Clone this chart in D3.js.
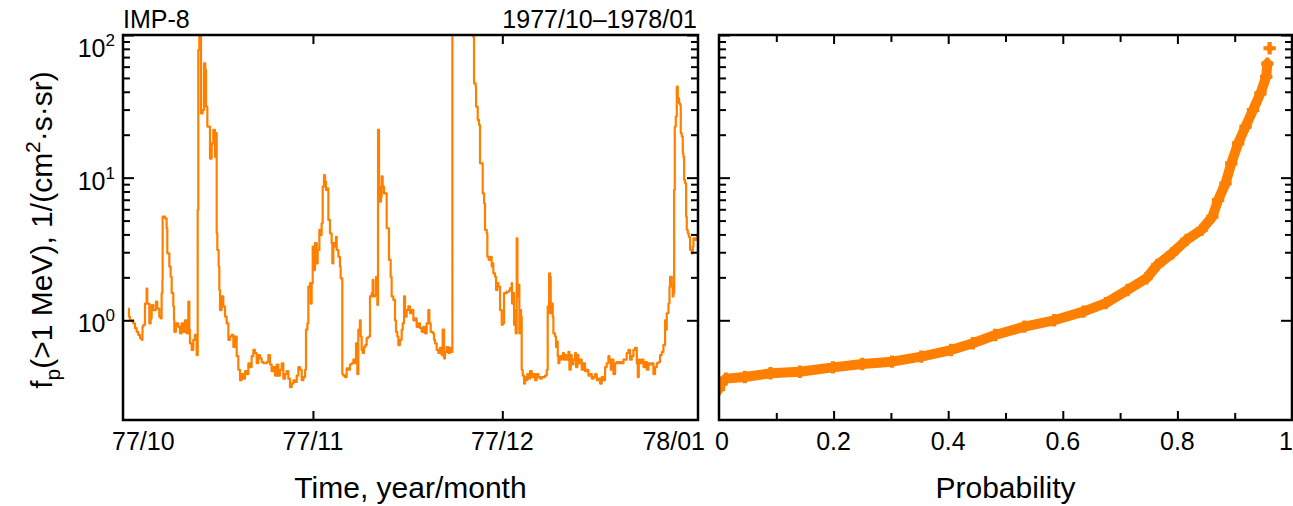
<!DOCTYPE html>
<html>
<head>
<meta charset="utf-8">
<script src="https://cdn.jsdelivr.net/npm/d3@7"></script>
<style>
  body { margin: 0; background: #fff; }
  svg { display: block; font-family: "Liberation Sans", Arial, sans-serif; }
</style>
</head>
<body>
<svg id="chart" width="1293" height="506"></svg>
<script>
// proton flux time series: days since 1977-10-01 00:00 UT, flux in 1/(cm2 s sr)
const tDays = [
  1.75, 1.85, 2.01, 2.54, 2.80, 3.07, 3.33, 3.60, 3.86, 4.00, 4.13, 4.39, 4.65, 4.75, 5.08, 5.29, 5.45, 5.71, 6.13, 6.34,
  6.66, 6.87, 7.03, 7.15, 7.19, 7.56, 7.82, 7.93, 8.25, 8.46, 8.62, 8.88, 8.99, 9.04, 9.30, 9.67, 9.94, 10.20, 10.46, 10.73,
  10.99, 11.26, 11.42, 11.52, 11.79, 12.05, 12.31, 12.58, 12.74, 12.84, 13.00, 13.27, 13.53, 13.74, 13.95, 14.06, 14.27, 14.59, 14.69, 14.96,
  15.22, 15.48, 15.64, 15.75, 15.85, 16.06, 16.17, 16.28, 16.54, 16.80, 17.07, 17.33, 17.60, 17.86, 18.13, 18.39, 18.65, 18.92, 19.18, 19.45,
  19.71, 19.97, 20.24, 20.50, 20.77, 21.03, 21.29, 21.56, 21.82, 22.09, 22.35, 22.61, 22.88, 23.14, 23.41, 23.67, 23.94, 24.20, 24.46, 24.73,
  24.99, 25.26, 25.52, 25.78, 26.05, 26.31, 26.58, 26.84, 27.10, 27.37, 27.63, 27.90, 28.16, 28.43, 28.69, 28.95, 29.22, 29.48, 29.75, 29.90,
  30.12, 30.27, 30.54, 30.65, 30.80, 30.96, 31.17, 31.33, 31.60, 31.75, 31.91, 32.02, 32.22, 32.38, 32.54, 32.75, 32.91, 33.07, 33.28, 33.44,
  33.70, 33.96, 34.07, 34.23, 34.49, 34.65, 34.76, 35.02, 35.28, 35.39, 35.55, 35.65, 35.81, 36.08, 36.34, 36.61, 36.87, 37.13, 37.40, 37.66,
  37.82, 38.03, 38.19, 38.45, 38.56, 38.72, 38.88, 39.09, 39.30, 39.51, 39.77, 40.04, 40.30, 40.46, 40.57, 40.83, 40.99, 41.20, 41.31, 41.47,
  41.62, 41.78, 41.89, 42.05, 42.26, 42.57, 42.68, 42.94, 43.05, 43.31, 43.47, 43.74, 44.00, 44.16, 44.37, 44.53, 44.79, 45.06, 45.22, 45.43,
  45.59, 45.85, 46.11, 46.38, 46.64, 46.91, 47.17, 47.43, 47.70, 47.96, 48.23, 48.49, 48.76, 49.02, 49.28, 49.44, 49.65, 49.97, 50.18, 50.34,
  50.60, 50.87, 51.13, 51.40, 51.55, 51.77, 51.92, 52.19, 52.45, 52.72, 52.98, 53.09, 54.80, 56.36, 56.41, 56.52, 56.78, 56.84, 57.10, 57.31,
  57.47, 57.74, 57.89, 58.11, 58.26, 58.53, 58.63, 58.84, 59.06, 59.32, 59.48, 59.58, 59.85, 60.01, 60.22, 60.38, 60.64, 60.91, 61.06, 61.27,
  61.70, 62.12, 62.22, 62.49, 62.54, 62.75, 62.86, 63.02, 63.12, 63.28, 63.39, 63.55, 63.70, 63.81, 63.97, 64.07, 64.23, 64.44, 64.60, 64.76,
  64.97, 65.18, 65.39, 65.66, 65.92, 66.19, 66.45, 66.71, 66.98, 67.24, 67.51, 67.77, 68.04, 68.19, 68.30, 68.41, 68.56, 68.67, 68.83, 68.99,
  69.09, 69.36, 69.51, 69.62, 69.78, 69.88, 70.04, 70.25, 70.41, 70.57, 70.78, 70.94, 71.21, 71.47, 71.63, 71.84, 72.00, 72.26, 72.53, 72.68,
  72.90, 73.05, 73.32, 73.58, 73.85, 74.11, 74.37, 74.64, 74.90, 75.17, 75.43, 75.70, 75.96, 76.22, 76.49, 76.75, 77.02, 77.28, 77.54, 77.81,
  77.97, 78.18, 78.34, 78.60, 78.87, 79.13, 79.39, 79.66, 79.92, 80.19, 80.45, 80.71, 80.98, 81.24, 81.51, 81.77, 82.03, 82.30, 82.46, 82.62,
  82.83, 83.09, 83.36, 83.62, 83.88, 84.15, 84.41, 84.68, 84.94, 85.20, 85.47, 85.73, 86.00, 86.26, 86.52, 86.79, 86.95, 87.05, 87.32, 87.48,
  87.58, 87.85, 88.00, 88.11, 88.22, 88.32, 88.48, 88.64, 88.80, 89.01, 89.17, 89.27, 89.43, 89.59, 89.69, 89.80, 89.96, 90.12, 90.22, 90.38,
  90.54, 90.75, 91.01, 91.17, 91.28, 91.54, 91.81, 92.07
];
const flux = [
  1.21, 1.06, 1.00, 0.95, 0.88, 0.83, 0.79, 0.75, 0.73, 0.90, 0.93, 1.31, 1.67, 1.31, 0.95, 1.03, 1.28, 1.18, 1.35, 1.21,
  1.06, 1.03, 1.55, 1.92, 5.33, 5.19, 4.42, 2.95, 2.38, 2.02, 1.55, 1.25, 1.00, 0.83, 0.95, 0.90, 0.81, 0.95, 0.83, 1.00,
  0.81, 1.35, 0.86, 0.69, 0.62, 0.73, 0.79, 0.57, 5.93, 78.5, 120, 28.2, 29.8, 63.2, 56.9, 31.5, 22.8, 22.8, 13.6, 17.4,
  21.6, 14.0, 20.5, 4.07, 3.11, 2.38, 1.63, 1.18, 1.47, 1.25, 1.06, 0.95, 0.73, 0.77, 0.79, 0.65, 0.77, 0.56, 0.45, 0.38,
  0.42, 0.39, 0.44, 0.42, 0.50, 0.47, 0.56, 0.62, 0.59, 0.50, 0.57, 0.54, 0.51, 0.50, 0.50, 0.51, 0.57, 0.49, 0.44, 0.47,
  0.41, 0.49, 0.41, 0.45, 0.50, 0.39, 0.42, 0.44, 0.39, 0.34, 0.36, 0.38, 0.37, 0.41, 0.47, 0.45, 0.38, 0.40, 0.45, 0.86,
  0.95, 1.72, 1.82, 1.31, 1.82, 3.28, 2.25, 3.47, 2.51, 3.11, 3.11, 4.30, 3.96, 4.79, 8.65, 10.4, 9.38, 8.20, 8.41, 5.05,
  4.07, 3.47, 2.51, 3.47, 3.28, 3.85, 3.11, 2.79, 2.38, 1.97, 1.97, 0.42, 0.41, 0.40, 0.46, 0.45, 0.49, 0.50, 0.53, 0.50,
  0.69, 0.42, 0.86, 1.00, 0.77, 0.62, 0.59, 0.65, 0.67, 0.75, 0.77, 1.47, 1.55, 1.92, 1.47, 1.51, 2.02, 1.28, 21.6, 8.65,
  6.79, 7.36, 10.2, 8.65, 7.76, 7.76, 4.42, 4.42, 2.65, 2.02, 1.47, 1.39, 1.00, 0.83, 0.77, 0.67, 0.73, 0.86, 0.95, 1.47,
  1.06, 1.18, 1.25, 1.12, 1.18, 1.00, 1.03, 0.90, 0.95, 0.88, 0.83, 0.90, 0.81, 0.95, 1.18, 0.95, 0.83, 0.81, 0.73, 0.69,
  0.62, 0.59, 0.64, 0.57, 0.86, 0.54, 0.60, 0.65, 0.59, 0.64, 0.60, 250, 420, 150, 97, 45.8, 43.4, 31.5, 25.4, 23.4,
  12.6, 12.6, 7.76, 6.61, 4.30, 4.07, 2.79, 2.65, 2.79, 2.38, 2.51, 2.13, 2.02, 1.63, 1.82, 1.72, 1.18, 0.93, 0.95, 1.55,
  1.59, 1.63, 1.68, 1.82, 1.31, 1.55, 0.93, 1.18, 0.81, 3.76, 1.47, 1.77, 0.81, 1.18, 1.06, 0.45, 0.41, 0.36, 0.40, 0.38,
  0.42, 0.39, 0.44, 0.40, 0.42, 0.38, 0.42, 0.40, 0.39, 0.40, 0.40, 0.41, 0.45, 1.25, 1.12, 2.13, 2.02, 1.12, 1.31, 1.06,
  0.81, 0.77, 0.65, 0.71, 0.56, 0.50, 0.56, 0.53, 0.54, 0.59, 0.53, 0.57, 0.53, 0.60, 0.45, 0.57, 0.49, 0.53, 0.59, 0.47,
  0.57, 0.50, 0.53, 0.45, 0.50, 0.44, 0.45, 0.41, 0.42, 0.39, 0.40, 0.42, 0.38, 0.39, 0.36, 0.40, 0.38, 0.47, 0.50, 0.56,
  0.53, 0.45, 0.53, 0.42, 0.50, 0.51, 0.50, 0.51, 0.50, 0.53, 0.53, 0.59, 0.62, 0.53, 0.56, 0.62, 0.64, 0.50, 0.40, 0.53,
  0.50, 0.53, 0.47, 0.51, 0.45, 0.50, 0.49, 0.50, 0.42, 0.47, 0.50, 0.51, 0.57, 0.60, 0.67, 1.00, 0.86, 1.12, 1.31, 1.72,
  2.02, 1.72, 1.47, 1.55, 8.20, 22.8, 26.8, 43.4, 36.0, 33.2, 32.3, 20.5, 19.4, 14.8, 14.0, 9.64, 9.12, 5.33, 4.30, 4.07,
  3.85, 3.11, 2.95, 3.28, 3.76, 3.66, 3.96, 4.53
];

// cumulative probability of the same flux
const prob = [
  0.000, 0.004, 0.012, 0.045, 0.090, 0.141, 0.199, 0.250, 0.302, 0.353, 0.405, 0.443, 0.482, 0.533, 0.585, 0.636, 0.675,
  0.713, 0.746, 0.765, 0.791, 0.816, 0.842, 0.861, 0.871, 0.884, 0.894, 0.906, 0.919, 0.932, 0.945, 0.955, 0.957, 0.961
];
const probFlux = [
  0.33, 0.36, 0.39, 0.40, 0.425, 0.436, 0.468, 0.494, 0.513, 0.556, 0.619, 0.690, 0.789, 0.902, 1.00, 1.15, 1.32,
  1.63, 1.97, 2.44, 2.95, 3.66, 4.30, 5.32, 6.97, 9.12, 12.6, 17.4, 22.8, 29.8, 39.0, 51.0, 63.0, 80.7
];

const monthDays = [0, 31, 61, 92];
const monthLabels = ["77/10", "77/11", "77/12", "78/01"];
const probTicks = [0, 0.1, 0.2, 0.3, 0.4, 0.5, 0.6, 0.7, 0.8, 0.9, 1];
const probLabels = ["0", "", "0.2", "", "0.4", "", "0.6", "", "0.8", "", "1"];
const decadeTicks = [1, 10, 100];
const decadeExp = ["0", "1", "2"];

const ORANGE = "#ff8000";
const INK = "#000";
const svg = d3.select("#chart");
const t0 = Date.UTC(1977, 9, 1);
const toDate = (d) => new Date(t0 + d * 864e5);

const plotTop = 35, plotBottom = 420;
const left1 = 123, right1 = 698, left2 = 719, right2 = 1292;

const y = d3.scaleLog().domain([0.2, 100]).range([plotBottom, plotTop]);
const x = d3.scaleUtc().domain([toDate(0.91), toDate(92)]).range([left1, right1]);
const xp = d3.scaleLinear().domain([0, 1]).range([left2, right2]);

const minorY = y.ticks().filter((v) => v >= 1 && !decadeTicks.includes(v));

// clip paths
const defs = svg.append("defs");
defs.append("clipPath").attr("id", "clip1").append("rect")
  .attr("x", left1).attr("y", plotTop).attr("width", right1 - left1).attr("height", plotBottom - plotTop);
defs.append("clipPath").attr("id", "clip2").append("rect")
  .attr("x", left2).attr("y", plotTop - 6).attr("width", right2 - left2).attr("height", plotBottom - plotTop + 6);

// time series line
const n = Math.min(tDays.length, flux.length);
const line = d3.line()
  .curve(d3.curveStepAfter)
  .x((d, i) => x(toDate(tDays[i])))
  .y((d) => y(d));

svg.append("path")
  .attr("clip-path", "url(#clip1)")
  .attr("fill", "none")
  .attr("stroke", ORANGE)
  .attr("stroke-width", 2.2)
  .attr("stroke-linejoin", "round")
  .attr("d", line(flux.slice(0, n)));

// probability distribution
const pLine = d3.line().x((d, i) => xp(prob[i])).y((d) => y(d));
const g2 = svg.append("g").attr("clip-path", "url(#clip2)");
g2.append("path")
  .attr("fill", "none")
  .attr("stroke", ORANGE)
  .attr("stroke-width", 10)
  .attr("stroke-linejoin", "round")
  .attr("stroke-linecap", "round")
  .attr("d", pLine(probFlux.slice(0, probFlux.length - 1)));
g2.selectAll(".pt")
  .data(probFlux)
  .join("path")
  .attr("class", "pt")
  .attr("fill", ORANGE)
  .attr("transform", (d, i) => `translate(${xp(prob[i])},${y(d)})`)
  .attr("d", d3.symbol(d3.symbolCross, 85));
g2.selectAll(".pt2")
  .data(probFlux)
  .join("path")
  .attr("class", "pt2")
  .attr("fill", ORANGE)
  .attr("transform", (d, i) => `translate(${xp(prob[i])},${y(d)}) rotate(45)`)
  .attr("d", d3.symbol(d3.symbolSquare, 50));

// axes helpers
const clean = (g) => {
  g.select(".domain").remove();
  g.selectAll(".tick line").attr("stroke", INK).attr("stroke-width", 2);
  g.selectAll(".tick text").remove();
};

function yTicks(l, r) {
  svg.append("g").attr("transform", `translate(${l},0)`)
    .call(d3.axisLeft(y).tickValues(decadeTicks).tickSize(-11)).call(clean);
  svg.append("g").attr("transform", `translate(${l},0)`)
    .call(d3.axisLeft(y).tickValues(minorY).tickSize(-7)).call(clean);
  svg.append("g").attr("transform", `translate(${r},0)`)
    .call(d3.axisRight(y).tickValues(decadeTicks).tickSize(-11)).call(clean);
  svg.append("g").attr("transform", `translate(${r},0)`)
    .call(d3.axisRight(y).tickValues(minorY).tickSize(-7)).call(clean);
}
yTicks(left1, right1);
yTicks(left2, right2);

// month ticks
const monthDates = monthDays.map(toDate);
svg.append("g").attr("transform", `translate(0,${plotTop})`)
  .call(d3.axisTop(x).tickValues(monthDates.slice(1, 3)).tickSize(-9)).call(clean);
svg.append("g").attr("transform", `translate(0,${plotBottom})`)
  .call(d3.axisBottom(x).tickValues(monthDates.slice(1, 3)).tickSize(-9)).call(clean);

// probability ticks
const pMajor = probTicks.filter((d, i) => probLabels[i] !== "" && d > 0 && d < 1);
const pMinor = probTicks.filter((d, i) => probLabels[i] === "");
[[plotTop, d3.axisTop], [plotBottom, d3.axisBottom]].forEach(([yy, ax]) => {
  svg.append("g").attr("transform", `translate(0,${yy})`)
    .call(ax(xp).tickValues(pMajor).tickSize(-9)).call(clean);
  svg.append("g").attr("transform", `translate(0,${yy})`)
    .call(ax(xp).tickValues(pMinor).tickSize(-7)).call(clean);
});

// frames
[[left1, right1], [left2, right2]].forEach(([l, r]) => {
  svg.append("rect")
    .attr("x", l).attr("y", plotTop).attr("width", r - l).attr("height", plotBottom - plotTop)
    .attr("fill", "none").attr("stroke", INK).attr("stroke-width", 2.5);
});

// y tick labels (powers of ten)
decadeTicks.forEach((v, i) => {
  const t = svg.append("text")
    .attr("x", left1 - 8)
    .attr("y", Math.max(y(v) + 12, plotTop + 22))
    .attr("text-anchor", "end")
    .attr("font-size", 25)
    .attr("fill", INK);
  t.append("tspan").text("10");
  t.append("tspan").attr("font-size", 17).attr("dy", -11).text(decadeExp[i]);
});

// month labels
monthLabels.forEach((lab, i) => {
  let px = x(monthDates[i]), anchor = "middle";
  if (i === 0) { px = left1 - 11; anchor = "start"; }
  if (i === monthLabels.length - 1) { px = right1 + 7; anchor = "end"; }
  svg.append("text")
    .attr("x", px).attr("y", 450)
    .attr("text-anchor", anchor)
    .attr("font-size", 25)
    .attr("fill", INK)
    .text(lab);
});

// probability labels
probTicks.forEach((p, i) => {
  if (!probLabels[i]) return;
  let px = xp(p), anchor = "middle";
  if (p === 0) px += 3;
  if (p === 1) { px = 1293; anchor = "end"; }
  svg.append("text")
    .attr("x", px).attr("y", 450)
    .attr("text-anchor", anchor)
    .attr("font-size", 25)
    .attr("fill", INK)
    .text(probLabels[i]);
});

// titles
svg.append("text").attr("x", left1).attr("y", 28)
  .attr("font-size", 25).attr("fill", INK).text("IMP-8");
svg.append("text").attr("x", right1 - 1).attr("y", 28)
  .attr("text-anchor", "end").attr("font-size", 25).attr("fill", INK).text("1977/10–1978/01");

svg.append("text").attr("x", (left1 + right1) / 2).attr("y", 498)
  .attr("text-anchor", "middle").attr("font-size", 30).attr("fill", INK).text("Time, year/month");
svg.append("text").attr("x", (left2 + right2) / 2).attr("y", 498)
  .attr("text-anchor", "middle").attr("font-size", 30).attr("fill", INK).text("Probability");

const yt = svg.append("text")
  .attr("transform", "translate(52,230) rotate(-90)")
  .attr("text-anchor", "middle")
  .attr("font-size", 30)
  .attr("fill", INK);
yt.append("tspan").text("f");
yt.append("tspan").attr("font-size", 21).attr("dy", 8).text("p");
yt.append("tspan").attr("dy", -8).text("(>1 MeV), 1/(cm");
yt.append("tspan").attr("font-size", 21).attr("dy", -12).text("2");
yt.append("tspan").attr("dy", 12).text("·s·sr)");
</script>
</body>
</html>
